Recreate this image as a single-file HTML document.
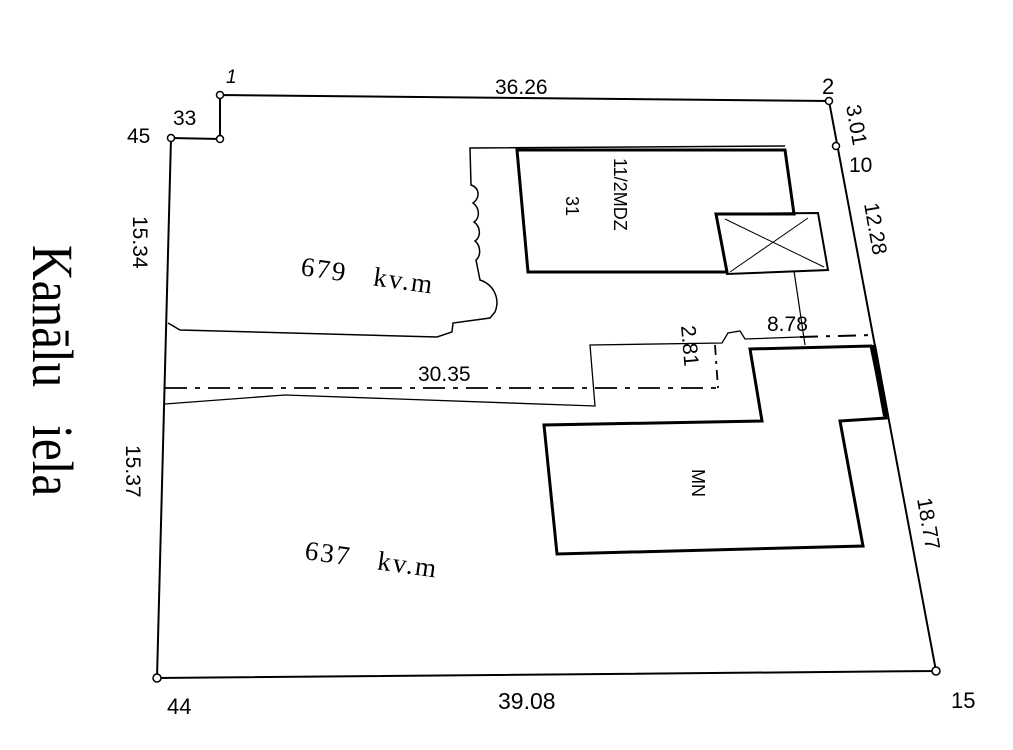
<!DOCTYPE html>
<html><head><meta charset="utf-8"><style>
html,body{margin:0;padding:0;background:#fff;}
svg{display:block;}
text{font-family:"Liberation Sans",sans-serif;fill:#000;}
.s{font-family:"Liberation Serif",serif;}
</style></head><body>
<svg width="1013" height="750" viewBox="0 0 1013 750" xmlns="http://www.w3.org/2000/svg">
<g fill="none" stroke="#000">
<polyline points="220,95 829,101 936,671 157,678 171,138 220,139 220,95" stroke-width="2"/>
<line x1="873" y1="345" x2="886" y2="416" stroke-width="6"/>
<circle cx="220" cy="95" r="3.5" fill="#fff" stroke-width="1.5"/>
<circle cx="220" cy="139" r="3.5" fill="#fff" stroke-width="1.5"/>
<circle cx="171" cy="138" r="3.5" fill="#fff" stroke-width="1.5"/>
<circle cx="829" cy="101" r="3.5" fill="#fff" stroke-width="1.5"/>
<circle cx="836" cy="146" r="3.5" fill="#fff" stroke-width="1.5"/>
<circle cx="157" cy="678" r="4" fill="#fff" stroke-width="1.5"/>
<circle cx="936" cy="671" r="4" fill="#fff" stroke-width="1.5"/>
<path d="M785,146 L470,148 L471,185 C480,188 480,198 473,203 C480,208 480,218 474,222 C481,227 481,237 475,241 C481,246 481,256 476,260 L480,280 C495,285 500,300 495,312 L490,318 L453,323 L452,332 L437,337 L180,330 L168,323" stroke-width="1.5"/>
<polygon points="517,150 785,150 794,214 716,214 727,272 528,272" stroke-width="3"/>
<polygon points="716,214 818,213 828,270 727,274" stroke-width="2"/>
<line x1="725" y1="219" x2="824" y2="267" stroke-width="1"/>
<line x1="808" y1="218" x2="730" y2="272" stroke-width="1"/>
<line x1="794" y1="271" x2="805" y2="345" stroke-width="1.2"/>
<path d="M165,404 L285,395 L595,406 L590,345 L722,343 L728,333 L740,331 L745,339 L800,337" stroke-width="1.3"/>
<line x1="800" y1="337" x2="872" y2="335" stroke-width="2" stroke-dasharray="18,8,4,8"/>
<line x1="165" y1="388" x2="720" y2="388" stroke-width="1.8" stroke-dasharray="22,8,5,8"/>
<line x1="715" y1="345" x2="718" y2="388" stroke-width="1.8" stroke-dasharray="10,6,3,6"/>
<polygon points="750,349 871,346 886,418 840,421 863,546 557,554 544,425 762,421" stroke-width="3"/>
</g>
<text x="226" y="83" font-size="19" font-style="italic">1</text>
<text x="822" y="94" font-size="22">2</text>
<text x="173" y="125" font-size="21">33</text>
<text x="127" y="143" font-size="21">45</text>
<text x="495" y="94" font-size="21">36.26</text>
<text x="849" y="172" font-size="21">10</text>
<text x="418" y="381" font-size="21">30.35</text>
<text x="767" y="331" font-size="21">8.78</text>
<text x="167" y="714" font-size="22">44</text>
<text x="498" y="709" font-size="23">39.08</text>
<text x="951" y="708" font-size="22">15</text>
<text x="0" y="0" font-size="21" transform="translate(133,216) rotate(90)">15.34</text>
<text x="0" y="0" font-size="21" transform="translate(126,445) rotate(90)">15.37</text>
<text x="0" y="0" font-size="21" transform="translate(846,106) rotate(80)">3.01</text>
<text x="0" y="0" font-size="21" transform="translate(864,204) rotate(80)">12.28</text>
<text x="0" y="0" font-size="21" transform="translate(917,499) rotate(80)">18.77</text>
<text x="0" y="0" font-size="21" transform="translate(681,326) rotate(85)">2.81</text>
<text x="0" y="0" font-size="18" transform="translate(614,158) rotate(90)">11/2MDZ</text>
<text x="0" y="0" font-size="18" transform="translate(566,196) rotate(90)">31</text>
<text x="0" y="0" font-size="18" transform="translate(692,469) rotate(90)">MN</text>
<text class="s" x="0" y="0" font-size="27" letter-spacing="2" word-spacing="18" transform="translate(300,275) rotate(8)">679 kv.m</text>
<text class="s" x="0" y="0" font-size="27" letter-spacing="2" word-spacing="18" transform="translate(304,559) rotate(8)">637 kv.m</text>
<text class="s" x="0" y="0" font-size="58" word-spacing="30" transform="translate(33,245) rotate(90) scale(0.85,1)">Kanālu iela</text>
</svg>
</body></html>
